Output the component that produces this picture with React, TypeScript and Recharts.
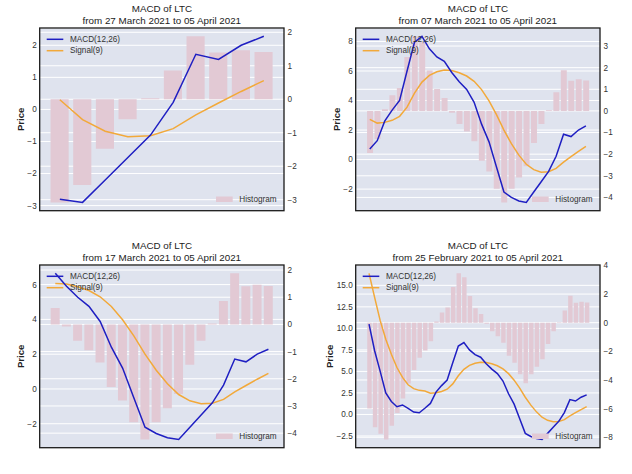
import { ComposedChart, Bar, Line, XAxis, YAxis, CartesianGrid } from 'recharts'

// ─── data: last 40 days of LTC, each panel shows the tail of it ─────────────
const dates = [
  '25 Feb', '26 Feb', '27 Feb', '28 Feb',
  '01 Mar', '02 Mar', '03 Mar', '04 Mar', '05 Mar', '06 Mar', '07 Mar', '08 Mar',
  '09 Mar', '10 Mar', '11 Mar', '12 Mar', '13 Mar', '14 Mar', '15 Mar', '16 Mar',
  '17 Mar', '18 Mar', '19 Mar', '20 Mar', '21 Mar', '22 Mar', '23 Mar', '24 Mar',
  '25 Mar', '26 Mar', '27 Mar', '28 Mar', '29 Mar', '30 Mar', '31 Mar',
  '01 Apr', '02 Apr', '03 Apr', '04 Apr', '05 Apr',
]

const macd = [
  10.5, 7.4, 5.0, 2.5, 1.5, 0.9, 1.1, 0.7, 0.28, 0.2,
  0.72, 1.28, 2.6, 3.35, 4.0, 6.0, 7.95, 8.35, 7.5, 6.95,
  6.65, 5.9, 5.27, 4.75, 3.88, 2.4, 1.2, -0.5, -2.2, -2.56,
  -2.8, -2.9, -2.2, -1.5, -0.8, 0.22, 1.72, 1.56, 2.0, 2.28,
]

const signal = [
  16.4, 13.6, 10.9, 8.75, 7.0, 5.45, 4.3, 3.45, 3.0, 2.8,
  2.72, 2.47, 2.52, 2.66, 2.93, 3.55, 4.5, 5.25, 5.7, 5.95,
  6.07, 6.03, 5.88, 5.66, 5.3, 4.74, 3.98, 3.05, 2.0, 1.08,
  0.3, -0.32, -0.68, -0.85, -0.82, -0.6, -0.17, 0.2, 0.56, 0.9,
]

const histogram = [
  -6.0, -7.3, -7.75, -8.15, -7.2, -6.3, -5.3, -4.25, -3.3, -2.45,
  -1.95, -1.3, 0.08, 0.72, 1.06, 2.49, 3.45, 3.18, 1.87, 1.01,
  0.6, -0.08, -0.6, -0.95, -1.4, -2.3, -2.8, -3.6, -4.23, -3.6,
  -3.08, -2.56, -1.48, -0.6, 0.03, 0.86, 1.88, 1.4, 1.46, 1.41,
]

const windowDays = [10, 30, 20, 40]
const subtitles = [
  'from 27 March 2021 to 05 April 2021',
  'from 07 March 2021 to 05 April 2021',
  'from 17 March 2021 to 05 April 2021',
  'from 25 February 2021 to 05 April 2021',
]
const priceTicks = [
  [-3, -2, -1, 0, 1, 2],
  [-2, 0, 2, 4, 6, 8],
  [-2, 0, 2, 4, 6],
  [-2.5, 0, 2.5, 5, 7.5, 10, 12.5, 15],
]
const histTicks = [
  [-3, -2, -1, 0, 1, 2],
  [-4, -3, -2, -1, 0, 1, 2, 3],
  [-4, -3, -2, -1, 0, 1, 2],
  [-8, -6, -4, -2, 0, 2, 4],
]

// ─── style ──────────────────────────────────────────────────────────────────
const FONT = '"Liberation Sans", Arial, sans-serif'
const BG = '#dfe3ee'
const BAR = '#e2c9d4'
const BLUE = '#1f1fc2'
const ORANGE = '#f2a93a'
const W = 316
const H = 237
const PLOT = { left: 39.7, top: 28, right: 284, bottom: 210.7 }
const LW = 30
const RW = 26

const minus = (s: string) => s.replace('-', '\u2212')

function pad(values: number[]): [number, number] {
  const lo = Math.min(...values)
  const hi = Math.max(...values)
  const m = (hi - lo) * 0.05
  return [lo - m, hi + m]
}

interface PanelProps {
  idx: number
}

function Panel({ idx }: PanelProps) {
  const n = windowDays[idx]
  const start = dates.length - n
  const data = dates.slice(start).map((d, i) => ({
    x: i,
    date: d,
    macd: macd[start + i],
    signal: signal[start + i],
    hist: histogram[start + i],
  }))

  const leftDomain = pad([...data.map((d) => d.macd), ...data.map((d) => d.signal)])
  const rightDomain = pad([0, ...data.map((d) => d.hist)])
  const span = (n - 0.2) * 1.1
  const xDomain: [number, number] = [-0.4 - 0.05 * (n - 0.2), n - 0.6 + 0.05 * (n - 0.2)]
  const plotW = PLOT.right - PLOT.left
  const barSize = (0.8 * plotW) / span

  const leftFmt = (v: number) => minus(idx === 3 ? v.toFixed(1) : String(v))
  const rightFmt = (v: number) => minus(String(v))
  const tick = { fontSize: 8.2, fill: '#333', fontFamily: FONT }
  const cx = (PLOT.left + PLOT.right) / 2
  const cy = (PLOT.top + PLOT.bottom) / 2

  return (
    <div style={{ position: 'absolute', left: (idx % 2) * W, top: Math.floor(idx / 2) * H, width: W, height: H }}>
      <ComposedChart
        width={W}
        height={H}
        data={data}
        margin={{ top: PLOT.top, bottom: H - PLOT.bottom, left: PLOT.left - LW, right: W - PLOT.right - RW }}
      >
        <CartesianGrid yAxisId="left" vertical={false} stroke="#fff" strokeWidth={1} fill={BG} fillOpacity={1} />
        <CartesianGrid yAxisId="right" vertical={false} stroke="#fff" strokeWidth={1} />
        <XAxis dataKey="x" type="number" domain={xDomain} hide />
        <YAxis
          yAxisId="left"
          orientation="left"
          width={LW}
          domain={leftDomain}
          ticks={priceTicks[idx]}
          interval={0}
          tickFormatter={leftFmt}
          tick={tick}
          tickLine={false}
          axisLine={false}
          tickSize={0}
          tickMargin={3}
          allowDataOverflow
        />
        <YAxis
          yAxisId="right"
          orientation="right"
          width={RW}
          domain={rightDomain}
          ticks={histTicks[idx]}
          interval={0}
          tickFormatter={rightFmt}
          tick={tick}
          tickLine={false}
          axisLine={false}
          tickSize={0}
          tickMargin={3.5}
          allowDataOverflow
        />
        <Bar yAxisId="right" dataKey="hist" fill={BAR} barSize={barSize} isAnimationActive={false} />
        <Line yAxisId="left" type="linear" dataKey="signal" stroke={ORANGE} strokeWidth={1.5} dot={false} isAnimationActive={false} />
        <Line yAxisId="left" type="linear" dataKey="macd" stroke={BLUE} strokeWidth={1.5} dot={false} isAnimationActive={false} />
      </ComposedChart>

      {/* title, legends, frame */}
      <svg width={W} height={H} style={{ position: 'absolute', left: 0, top: 0, pointerEvents: 'none' }} fontFamily={FONT}>
        <text x={cx} y={8.3} fontSize={9.8} fill="#222" textAnchor="middle" dominantBaseline="central">MACD of LTC</text>
        <text x={cx} y={20.6} fontSize={9.8} fill="#222" textAnchor="middle" dominantBaseline="central">{subtitles[idx]}</text>
        <text
          transform={`translate(${idx === 3 ? 13.3 : 20}, ${cy}) rotate(-90)`}
          fontSize={9.5}
          fontWeight="bold"
          fill="#222"
          textAnchor="middle"
          dominantBaseline="central"
        >
          Price
        </text>
        <line x1={46.7} x2={63.3} y1={39.3} y2={39.3} stroke={BLUE} strokeWidth={1.5} />
        <text x={70} y={39.3} fontSize={8.2} fill="#333" dominantBaseline="central">MACD(12,26)</text>
        <line x1={46.7} x2={63.3} y1={50.7} y2={50.7} stroke={ORANGE} strokeWidth={1.5} />
        <text x={70} y={50.7} fontSize={8.2} fill="#333" dominantBaseline="central">Signal(9)</text>
        <rect x={216} y={196.5} width={16.7} height={5.5} fill={BAR} />
        <text x={239.3} y={199.3} fontSize={8.2} fill="#333" dominantBaseline="central">Histogram</text>
        <rect x={PLOT.left} y={PLOT.top} width={plotW} height={PLOT.bottom - PLOT.top} fill="none" stroke="#1a1a1a" strokeWidth={1.3} />
      </svg>
    </div>
  )
}

export default function App() {
  return (
    <div style={{ position: 'absolute', left: 0, top: 0, width: 632, height: 474, background: '#fff' }}>
      {windowDays.map((_, i) => (
        <Panel key={i} idx={i} />
      ))}
    </div>
  )
}
